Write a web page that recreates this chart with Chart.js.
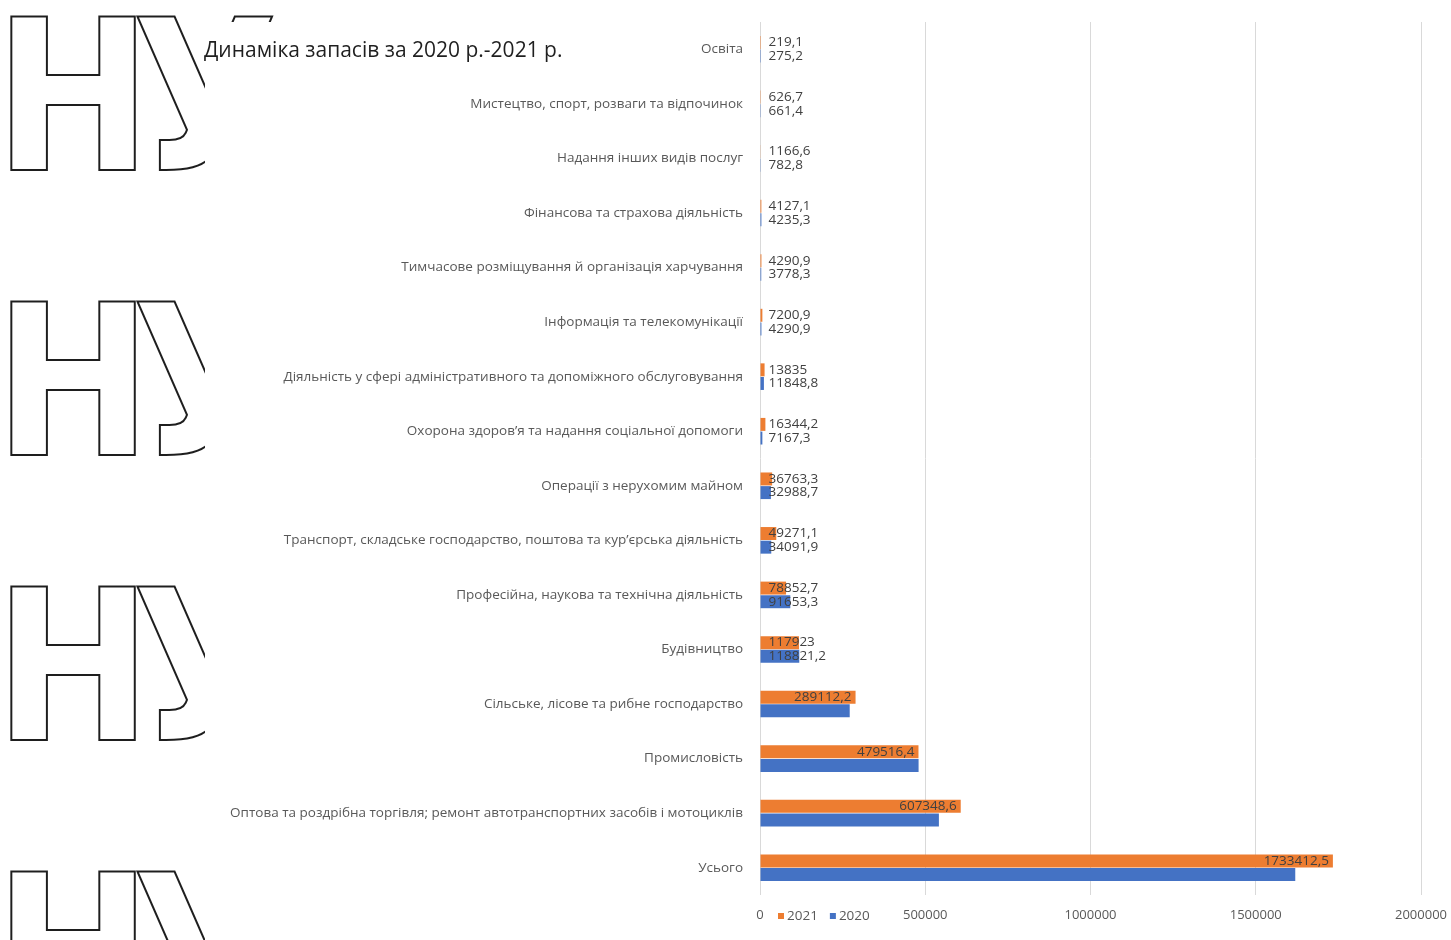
<!DOCTYPE html>
<html lang="uk">
<head>
<meta charset="utf-8">
<title>Динаміка запасів</title>
<script src="https://cdn.jsdelivr.net/npm/chart.js@4.4.1/dist/chart.umd.min.js"></script>
<style>
    html, body {
        margin: 0;
        padding: 0;
        background: #fff;
    }
    .page {
        position: relative;
        width: 1451px;
        height: 940px;
        overflow: hidden;
        background: #fff;
    }
    .mark {
        position: absolute;
        left: -6px;
        font-family: "Liberation Sans Narrow", "DejaVu Sans Condensed", sans-serif;
        font-weight: bold;
        font-size: 210px;
        line-height: 1;
        letter-spacing: -20px;
        color: transparent;
        -webkit-text-stroke: 2px #1e1e1e;
        white-space: nowrap;
        z-index: 0;
    }
    .chartBox {
        position: absolute;
        left: 205px;
        top: 22px;
        width: 1246px;
        height: 918px;
        background: #fff;
        z-index: 1;
    }
    .title {
        position: absolute;
        left: 204px;
        top: 35px;
        font-family: "Open Sans", sans-serif;
        font-size: 21px;
        color: #1f1f1f;
        z-index: 2;
        white-space: nowrap;
    }
</style>
</head>
<body>
<div class="page">
    <div class="mark" style="top: -7px;">НУ</div>
    <div class="mark" style="top: 278px;">НУ</div>
    <div class="mark" style="top: 563px;">НУ</div>
    <div class="mark" style="top: 848px;">НУ</div>
    <div class="chartBox"><canvas id="stockChart"></canvas></div>
    <div class="title">Динаміка запасів за 2020 р.-2021 р.</div>
</div>
<script>
const categories = [
    'Освіта',
    'Мистецтво, спорт, розваги та відпочинок',
    'Надання інших видів послуг',
    'Фінансова та страхова діяльність',
    'Тимчасове розміщування й організація харчування',
    'Інформація та телекомунікації',
    'Діяльність у сфері адміністративного та допоміжного обслуговування',
    'Охорона здоров’я та надання соціальної допомоги',
    'Операції з нерухомим майном',
    'Транспорт, складське господарство, поштова та кур’єрська діяльність',
    'Професійна, наукова та технічна діяльність',
    'Будівництво',
    'Сільське, лісове та рибне господарство',
    'Промисловість',
    'Оптова та роздрібна торгівля; ремонт автотранспортних засобів і мотоциклів',
    'Усього'
];

const values2021 = [219.1, 626.7, 1166.6, 4127.1, 4290.9, 7200.9, 13835, 16344.2, 36763.3, 49271.1, 78852.7, 117923, 289112.2, 479516.4, 607348.6, 1733412.5];
const values2020 = [275.2, 661.4, 782.8, 4235.3, 3778.3, 4290.9, 11848.8, 7167.3, 32988.7, 34091.9, 91653.3, 118821.2, 271455.6, 479830.1, 541290.7, 1619543.8];

const xTicks = [0, 500000, 1000000, 1500000, 2000000];

const orange = '#ED7D31';
const blue = '#4472C4';
const textGrey = '#595959';
const fontFamily = '"Open Sans", sans-serif';
const labelFont = '13.5px "Open Sans", sans-serif';

const fmt = v => String(v).replace('.', ',');

// value labels: inside the bar end when they fit, otherwise from the base
const valueLabels = {
    id: 'valueLabels',
    afterDatasetsDraw (chart) {
        const ctx = chart.ctx;
        ctx.save();
        ctx.font = labelFont;
        ctx.fillStyle = '#404040';
        ctx.textBaseline = 'middle';
        chart.data.datasets.forEach((ds, di) => {
            chart.getDatasetMeta(di).data.forEach((bar, i) => {
                const text = fmt(ds.data[i]);
                const w = ctx.measureText(text).width;
                const inside = bar.x - 4 - w;
                let x = bar.base + 8;
                if (inside >= bar.base + 8) {
                    if (!ds.insideLabels) return;
                    x = inside;
                }
                ctx.fillText(text, x, bar.y);
            });
        });
        ctx.restore();
    }
};

// legend sits on the axis line, next to the zero tick
const axisLegend = {
    id: 'axisLegend',
    afterDraw (chart) {
        const ctx = chart.ctx;
        const xs = chart.scales.x;
        let x = chart.chartArea.left + 18;
        const y = xs.top + 21;
        ctx.save();
        ctx.font = labelFont;
        ctx.textBaseline = 'middle';
        chart.data.datasets.forEach(ds => {
            ctx.fillStyle = ds.backgroundColor;
            ctx.fillRect(x, y - 3, 6, 6);
            ctx.fillStyle = textGrey;
            ctx.fillText(ds.label, x + 9, y);
            x += 9 + ctx.measureText(ds.label).width + 12;
        });
        ctx.restore();
    }
};

new Chart(document.getElementById('stockChart'), {
    type: 'bar',
    data: {
        labels: categories,
        datasets: [
            {
                label: '2021',
                data: values2021,
                backgroundColor: orange,
                insideLabels: true,
                barPercentage: 0.95,
                categoryPercentage: 0.5
            },
            {
                label: '2020',
                data: values2020,
                backgroundColor: blue,
                insideLabels: false,
                barPercentage: 0.95,
                categoryPercentage: 0.5
            }
        ]
    },
    plugins: [valueLabels, axisLegend],
    options: {
        indexAxis: 'y',
        responsive: true,
        maintainAspectRatio: false,
        animation: false,
        layout: {
            padding: { top: 0, right: 30, bottom: 0, left: 0 }
        },
        scales: {
            x: {
                min: xTicks[0],
                max: xTicks[xTicks.length - 1],
                afterBuildTicks: scale => {
                    scale.ticks = xTicks.map(v => ({ value: v }));
                },
                afterFit: scale => {
                    scale.height = 45;
                    scale.paddingLeft = 0;
                    scale.paddingRight = 0;
                },
                ticks: {
                    color: textGrey,
                    font: { family: fontFamily, size: 13 },
                    padding: 12,
                    maxRotation: 0,
                    callback: v => String(v)
                },
                grid: {
                    color: '#d9d9d9',
                    drawTicks: false
                },
                border: { display: false }
            },
            y: {
                afterFit: scale => {
                    scale.width = 555;
                    scale.paddingTop = 0;
                    scale.paddingBottom = 0;
                },
                ticks: {
                    color: textGrey,
                    font: { family: fontFamily, size: 13.5 },
                    padding: 9,
                    autoSkip: false
                },
                grid: { display: false },
                border: { display: false }
            }
        },
        plugins: {
            legend: { display: false },
            tooltip: { enabled: false }
        }
    }
});
</script>
</body>
</html>
